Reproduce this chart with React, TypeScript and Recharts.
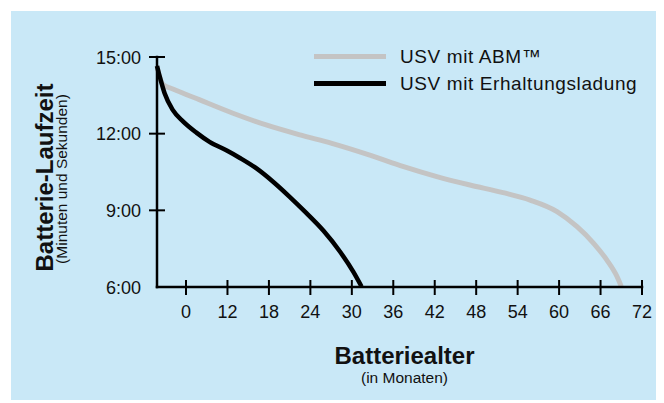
import { LineChart, Line, XAxis, YAxis, Legend } from "recharts"

// Batteriealter (Monate) und Laufzeit (Minuten)
const abmMonths = [1.8, 2.2, 2.7, 4.1, 8, 12.8, 17.6, 22.5, 27.1, 32.6, 37.5, 42.3, 47.1, 51.9, 55.8, 59.7, 62.6, 65, 66.9, 68.4, 69]
const abmMinutes = [14.65, 14.2, 13.92, 13.75, 13.32, 12.8, 12.34, 11.95, 11.62, 11.16, 10.71, 10.32, 9.99, 9.69, 9.4, 8.95, 8.36, 7.71, 7.06, 6.4, 6.02]

const floatMonths = [1.8, 2.2, 2.9, 4.1, 5.6, 7.5, 9.4, 11.9, 13.8, 16.2, 18.6, 21, 23.4, 25.9, 28.3, 30.2, 31.4]
const floatMinutes = [14.65, 14.23, 13.58, 12.92, 12.47, 12.04, 11.68, 11.34, 11.05, 10.64, 10.12, 9.53, 8.9, 8.2, 7.38, 6.6, 6.02]

const monthTicks = [6, 12, 18, 24, 30, 36, 42, 48, 54, 60, 66, 72]
const monthLabels = ["0", "12", "18", "24", "30", "36", "42", "48", "54", "60", "66", "72"]
const minuteTicks = [6, 9, 12, 15]
const minuteLabels = ["6:00", "9:00", "12:00", "15:00"]
const seriesNames = ["USV mit ABM™", "USV mit Erhaltungsladung"]

const abmData = abmMonths.map((m, i) => ({ m, v: abmMinutes[i] }))
const floatData = floatMonths.map((m, i) => ({ m, v: floatMinutes[i] }))

const font = '"Liberation Sans", Arial, Helvetica, sans-serif'
const ink = "#111"

function MonthTick({ x, y, payload }: any) {
  const label = monthLabels[monthTicks.indexOf(payload.value)]
  return (
    <g>
      <line x1={x} x2={x} y1={y - 7} y2={y + 8} stroke="#000" strokeWidth={2} />
      <text x={x} y={y + 31} textAnchor="middle" fontSize={18} fill={ink} fontFamily={font}>
        {label}
      </text>
    </g>
  )
}

function MinuteTick({ x, y, payload }: any) {
  const i = minuteTicks.indexOf(payload.value)
  return (
    <g>
      {i > 0 && <line x1={x - 8} x2={x + 8} y1={y} y2={y} stroke="#000" strokeWidth={2} />}
      <text x={x - 16} y={y + 6.5} textAnchor="end" fontSize={18} fill={ink} fontFamily={font}>
        {minuteLabels[i]}
      </text>
    </g>
  )
}

const yTitle = () => (
  <g fill={ink} fontFamily={font}>
    <text transform="translate(42,166.5) rotate(-90)" textAnchor="middle" fontSize={24} fontWeight="bold">
      Batterie-Laufzeit
    </text>
    <text transform="translate(55.5,168) rotate(-90)" textAnchor="middle" fontSize={15.5}>
      (Minuten und Sekunden)
    </text>
  </g>
)

const xTitle = () => (
  <g fill={ink} fontFamily={font}>
    <text x={393.5} y={353} textAnchor="middle" fontSize={24} fontWeight="bold">
      Batteriealter
    </text>
    <text x={393.5} y={372} textAnchor="middle" fontSize={15.5}>
      (in Monaten)
    </text>
  </g>
)

const renderLegend = ({ payload }: any) => (
  <div>
    {(payload || []).map((e: any) => (
      <div key={e.value} style={{ display: "flex", alignItems: "center", height: 27 }}>
        <span style={{ display: "inline-block", width: 72, height: 5, background: e.color, marginRight: 14 }} />
        <span style={{ fontSize: 19, letterSpacing: 0.6, color: ink, fontFamily: font, whiteSpace: "nowrap" }}>{e.value}</span>
      </div>
    ))}
  </div>
)

export default function App() {
  return (
    <div style={{ position: "relative", left: 3, top: 3, width: 653, height: 392, background: "#c9e8f7" }}>
      <LineChart width={653} height={392} margin={{ top: 46, right: 22, bottom: 0, left: 0 }} style={{ fontFamily: font }}>
        <XAxis
          type="number"
          dataKey="m"
          domain={[1.8, 72]}
          ticks={monthTicks}
          interval={0}
          height={116}
          tickSize={0}
          tickMargin={0}
          tickLine={false}
          tick={<MonthTick />}
          axisLine={{ stroke: "#000", strokeWidth: 2.5, strokeLinecap: "square" }}
          label={{ content: xTitle }}
        />
        <YAxis
          type="number"
          dataKey="v"
          domain={[6, 15]}
          ticks={minuteTicks}
          interval={0}
          width={146}
          tickSize={0}
          tickMargin={0}
          tickLine={false}
          tick={<MinuteTick />}
          axisLine={{ stroke: "#000", strokeWidth: 2.5, strokeLinecap: "square" }}
          label={{ content: yTitle }}
        />
        <Legend
          layout="horizontal"
          verticalAlign="middle"
          align="center"
          wrapperStyle={{ left: 303, top: 32, width: 340 }}
          content={renderLegend}
        />
        <Line
          data={abmData}
          dataKey="v"
          name={seriesNames[0]}
          type="monotone"
          stroke="#c4c4c4"
          strokeWidth={5}
          dot={false}
          isAnimationActive={false}
        />
        <Line
          data={floatData}
          dataKey="v"
          name={seriesNames[1]}
          type="monotone"
          stroke="#000"
          strokeWidth={4.5}
          dot={false}
          isAnimationActive={false}
        />
      </LineChart>
    </div>
  )
}
